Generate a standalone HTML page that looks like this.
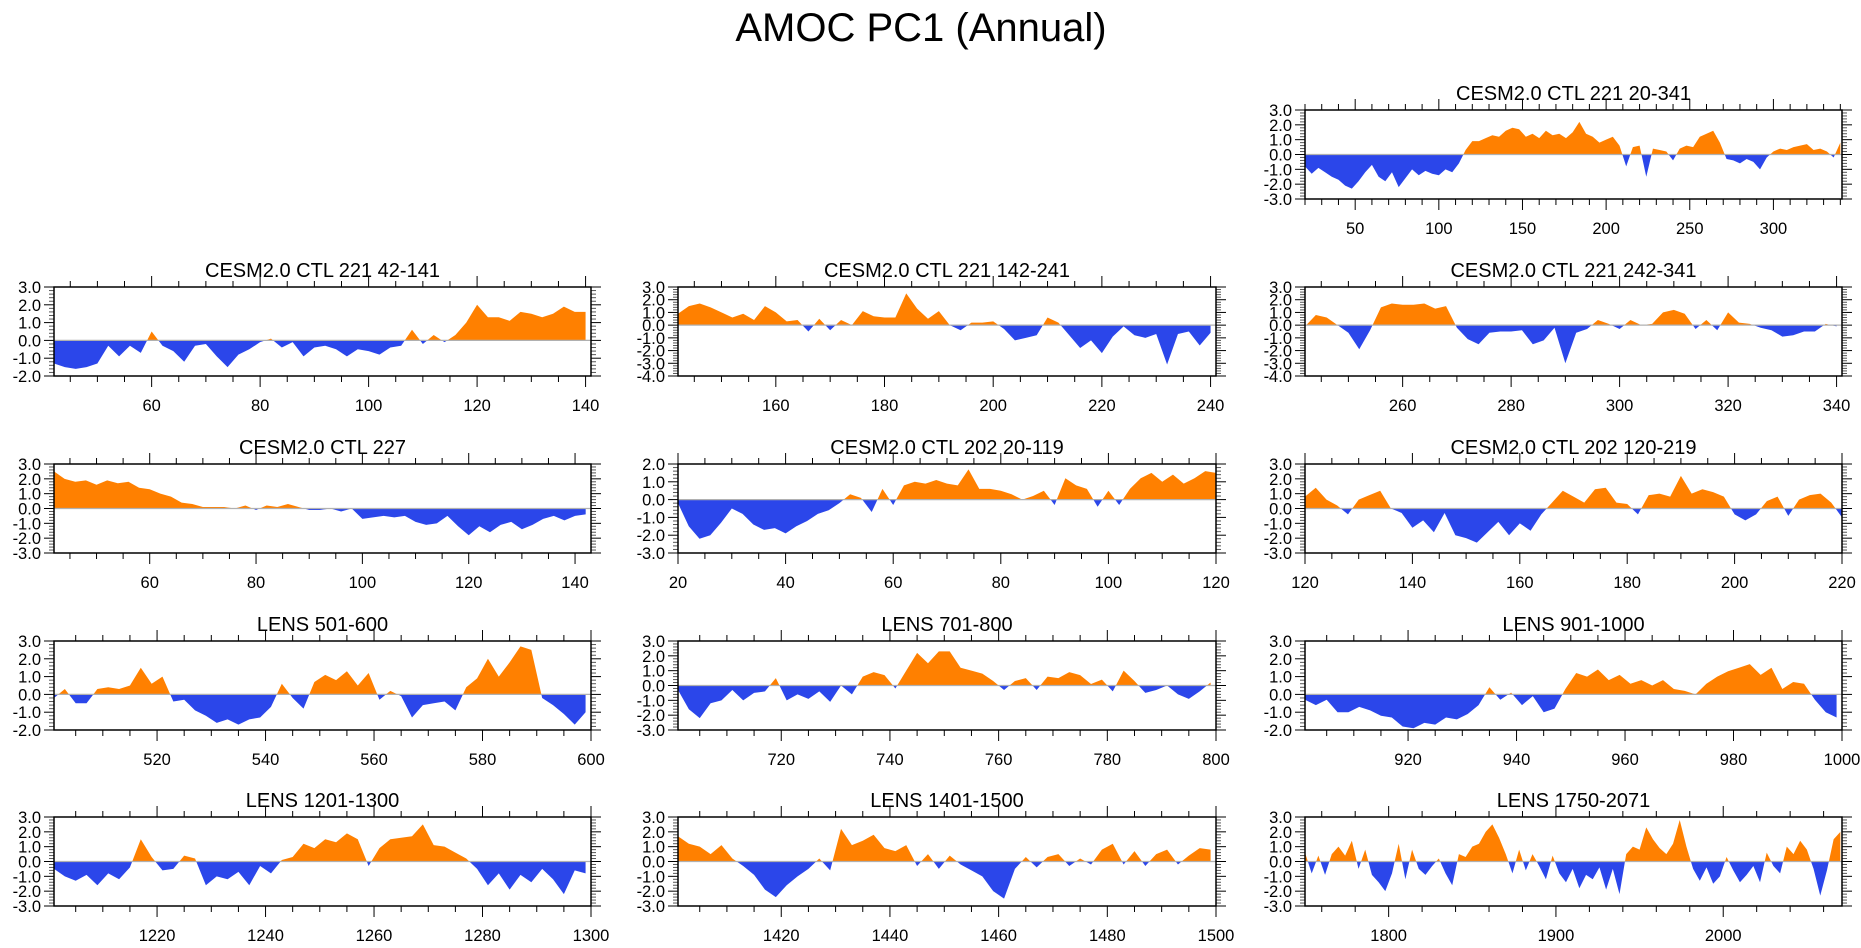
<!DOCTYPE html>
<html><head><meta charset="utf-8"><style>
html,body{margin:0;padding:0;background:#fff;}
svg{display:block;font-family:"Liberation Sans",sans-serif;}
</style></head><body>
<svg id="chart" width="1861" height="948" viewBox="0 0 1861 948" xmlns="http://www.w3.org/2000/svg">
<text x="921" y="41" font-size="40" text-anchor="middle" fill="#000">AMOC PC1 (Annual)</text>
</svg>
<script>
// ---- data arrays ----
const titles = ["CESM2.0 CTL 221 20-341","CESM2.0 CTL 221 42-141","CESM2.0 CTL 221 142-241","CESM2.0 CTL 221 242-341","CESM2.0 CTL 227","CESM2.0 CTL 202 20-119","CESM2.0 CTL 202 120-219","LENS 501-600","LENS 701-800","LENS 901-1000","LENS 1201-1300","LENS 1401-1500","LENS 1750-2071"];
const xStart = [20,42,142,242,42,20,120,501,701,901,1201,1401,1750];
const xEnd = [341,141,241,341,143,120,220,600,800,1000,1300,1500,2071];
const dataStep = [4,2,2,2,2,2,2,2,2,2,2,2,4];
const yMin = [-3,-2,-4,-4,-3,-3,-3,-2,-3,-2,-3,-3,-3];
const yMax = [3,3,3,3,3,2,3,3,3,3,3,3,3];
const majorStep = [50,20,20,20,20,20,20,20,20,20,20,20,100];
const minorStep = [10,5,5,5,5,5,5,5,5,5,5,5,20];

const v0 = [-0.8,-1.3,-0.9,-1.2,-1.5,-1.7,-2.1,-2.3,-1.8,-1.2,-0.7,-1.5,-1.8,-1.2,-2.2,-1.6,-1.0,-1.4,-1.1,-1.3,-1.4,-1.0,-1.2,-0.6,0.3,0.9,0.9,1.1,1.3,1.2,1.6,1.8,1.7,1.2,1.4,1.1,1.6,1.3,1.4,1.1,1.5,2.2,1.4,1.2,0.8,1.0,1.2,0.6,-0.8,0.5,0.6,-1.5,0.4,0.3,0.2,-0.4,0.4,0.6,0.5,1.2,1.4,1.6,0.8,-0.3,-0.4,-0.6,-0.3,-0.5,-1.0,-0.2,0.2,0.4,0.3,0.5,0.6,0.7,0.3,0.4,0.2,-0.2,0.8];
const v1 = [-1.3,-1.5,-1.6,-1.5,-1.3,-0.3,-0.9,-0.3,-0.7,0.5,-0.3,-0.6,-1.2,-0.3,-0.2,-0.9,-1.5,-0.8,-0.5,-0.1,0.1,-0.4,-0.1,-0.9,-0.4,-0.3,-0.5,-0.9,-0.5,-0.6,-0.8,-0.4,-0.3,0.6,-0.2,0.3,-0.1,0.3,1.0,2.0,1.3,1.3,1.1,1.6,1.5,1.3,1.5,1.9,1.6,1.6];
const v2 = [0.9,1.5,1.7,1.4,1.0,0.6,0.9,0.4,1.5,1.0,0.3,0.4,-0.5,0.5,-0.4,0.4,0.0,1.1,0.7,0.6,0.6,2.5,1.3,0.5,1.1,0.0,-0.4,0.2,0.2,0.3,-0.3,-1.2,-1.0,-0.8,0.6,0.2,-0.8,-1.8,-1.2,-2.2,-0.9,-0.1,-0.8,-1.0,-0.7,-3.1,-0.7,-0.5,-1.6,-0.6];
const v3 = [-0.1,0.8,0.6,0.0,-0.6,-1.9,-0.4,1.4,1.7,1.6,1.6,1.7,1.3,1.5,-0.2,-1.1,-1.5,-0.6,-0.5,-0.5,-0.4,-1.5,-1.2,-0.2,-3.0,-0.6,-0.3,0.4,0.1,-0.3,0.4,0.0,0.1,1.0,1.2,0.9,-0.3,0.4,-0.4,1.0,0.2,0.1,-0.2,-0.4,-0.9,-0.8,-0.5,-0.5,0.1,-0.1];
const v4 = [2.5,2.0,1.8,1.9,1.6,1.9,1.7,1.8,1.4,1.3,1.0,0.8,0.4,0.3,0.1,0.1,0.1,0.0,0.2,-0.1,0.2,0.1,0.3,0.1,-0.1,-0.1,0.0,-0.2,0.0,-0.7,-0.6,-0.5,-0.6,-0.5,-0.9,-1.1,-1.0,-0.5,-1.2,-1.8,-1.2,-1.6,-1.1,-0.9,-1.4,-1.1,-0.7,-0.5,-0.8,-0.5,-0.4];
const v5 = [-0.2,-1.5,-2.2,-2.0,-1.3,-0.5,-0.8,-1.4,-1.7,-1.6,-1.9,-1.5,-1.2,-0.8,-0.6,-0.2,0.3,0.1,-0.7,0.6,-0.3,0.8,1.0,0.9,1.1,0.9,0.8,1.7,0.6,0.6,0.5,0.3,0.0,0.2,0.5,-0.3,1.2,0.8,0.6,-0.4,0.5,-0.3,0.6,1.2,1.5,1.0,1.4,0.9,1.2,1.6,1.5];
const v6 = [0.8,1.4,0.6,0.2,-0.4,0.6,0.9,1.2,0.0,-0.3,-1.3,-0.8,-1.6,-0.3,-1.8,-2.0,-2.3,-1.6,-0.9,-1.8,-1.0,-1.5,-0.4,0.4,1.2,0.8,0.4,1.3,1.4,0.4,0.3,-0.4,0.9,1.0,0.8,2.2,1.0,1.3,1.1,0.8,-0.4,-0.8,-0.4,0.5,0.8,-0.5,0.6,0.9,1.0,0.4,-0.6];
const v7 = [-0.2,0.3,-0.5,-0.5,0.3,0.4,0.3,0.5,1.5,0.6,1.0,-0.4,-0.3,-0.9,-1.2,-1.6,-1.4,-1.7,-1.4,-1.3,-0.7,0.6,-0.2,-0.8,0.7,1.1,0.8,1.3,0.5,1.2,-0.3,0.2,-0.1,-1.3,-0.6,-0.5,-0.4,-0.9,0.4,0.9,2.0,1.0,1.8,2.7,2.5,-0.2,-0.6,-1.1,-1.7,-1.0];
const v8 = [-0.3,-1.6,-2.2,-1.2,-1.0,-0.3,-1.0,-0.5,-0.4,0.5,-1.0,-0.6,-0.9,-0.4,-1.1,0.0,-0.6,0.6,0.9,0.7,-0.2,1.0,2.2,1.5,2.3,2.3,1.2,1.0,0.8,0.3,-0.3,0.3,0.5,-0.3,0.6,0.5,0.9,0.7,0.1,0.4,-0.4,1.0,0.3,-0.5,-0.3,0.0,-0.6,-0.9,-0.4,0.2];
const v9 = [-0.3,-0.6,-0.3,-1.0,-1.0,-0.7,-0.9,-1.2,-1.3,-1.8,-1.9,-1.6,-1.7,-1.3,-1.4,-1.1,-0.6,0.4,-0.3,0.1,-0.6,-0.1,-1.0,-0.8,0.3,1.2,1.0,1.4,0.8,1.1,0.6,0.8,0.5,0.8,0.3,0.2,0.0,0.6,1.0,1.3,1.5,1.7,1.1,1.5,0.3,0.7,0.6,-0.3,-1.0,-1.3];
const v10 = [-0.5,-1.0,-1.3,-0.9,-1.6,-0.8,-1.2,-0.4,1.5,0.3,-0.6,-0.5,0.4,0.2,-1.6,-1.0,-1.2,-0.7,-1.6,-0.3,-0.8,0.1,0.3,1.2,0.9,1.5,1.3,1.9,1.5,-0.3,0.9,1.5,1.6,1.7,2.5,1.1,1.0,0.6,0.2,-0.5,-1.6,-0.8,-1.9,-0.9,-1.4,-0.5,-1.2,-2.2,-0.6,-0.8];
const v11 = [1.7,1.2,1.0,0.5,1.1,0.2,-0.3,-0.9,-1.9,-2.4,-1.6,-1.0,-0.5,0.2,-0.6,2.2,1.1,1.4,1.8,0.9,0.7,1.1,-0.3,0.5,-0.5,0.4,-0.2,-0.6,-1.0,-2.0,-2.5,-0.5,0.3,-0.4,0.3,0.5,-0.3,0.2,-0.2,0.8,1.2,-0.2,0.7,-0.3,0.5,0.8,-0.2,0.4,0.9,0.8];
const v12 = [0.6,-0.8,0.4,-0.9,0.5,1.0,0.4,1.4,-0.5,0.8,-0.9,-1.4,-2.0,-0.8,1.2,-1.2,0.8,-0.5,-0.9,-0.3,0.2,-0.8,-1.6,0.5,0.3,1.0,1.2,2.0,2.5,1.6,0.5,-0.8,0.8,-0.6,0.5,-0.3,-1.2,0.4,-0.8,-1.4,-0.5,-1.8,-0.9,-1.2,-0.4,-1.9,-0.5,-2.2,0.5,1.0,0.8,2.3,1.5,0.9,0.5,1.2,2.8,1.0,-0.5,-1.3,-0.4,-1.5,-1.0,0.3,-0.6,-1.4,-0.9,-0.3,-1.4,0.6,-0.3,-0.8,1.0,0.5,1.4,0.8,-0.5,-2.3,-0.6,1.5,2.0];
const seriesValues = [v0,v1,v2,v3,v4,v5,v6,v7,v8,v9,v10,v11,v12];

// ---- layout (not data) ----
const colLeft = [54,678,1305], colRight = [591,1216,1842];
const rowTop = [110,287,464,641,817];
const panelCol = [2,0,1,2,0,1,2,0,1,2,0,1,2];
const panelRow = [0,1,1,1,2,2,2,3,3,3,4,4,4];
const PH = 89;
const ORANGE = "#ff8000", BLUE = "#2b46ea";
const NS = "http://www.w3.org/2000/svg";
const svg = document.getElementById("chart");
function mk(tag, attrs, parent){const e=document.createElementNS(NS,tag);for(const k in attrs)e.setAttribute(k,attrs[k]);(parent||svg).appendChild(e);return e;}

for (let p=0;p<titles.length;p++){
  const L=colLeft[panelCol[p]], R=colRight[panelCol[p]], T=rowTop[panelRow[p]], B=T+PH;
  const x0=xStart[p], x1=xEnd[p], y0=yMin[p], y1=yMax[p];
  const sx = v => L + (v-x0)/(x1-x0)*(R-L);
  const sy = v => B - (v-y0)/(y1-y0)*(B-T);
  const g = mk("g",{});
  
  
  const t = mk("text",{x:(L+R)/2,y:T-10,"font-size":20,"text-anchor":"middle",fill:"#000"},g);
  t.textContent = titles[p];
  
  
  const zy = sy(0);
  const vals = seriesValues[p];
  let pts = [];
  for (let i=0;i<vals.length;i++){ pts.push(sx(x0 + i*dataStep[p]).toFixed(2)+","+sy(vals[i]).toFixed(2)); }
  const lastX = sx(x0 + (vals.length-1)*dataStep[p]);
  const poly = sx(x0).toFixed(2)+","+zy+" "+pts.join(" ")+" "+lastX.toFixed(2)+","+zy;
  const cu = mk("clipPath",{id:"cu"+p},g); mk("rect",{x:L,y:T,width:R-L,height:zy-T},cu);
  const cd = mk("clipPath",{id:"cd"+p},g); mk("rect",{x:L,y:zy,width:R-L,height:B-zy},cd);
  const pu = mk("polygon",{points:poly,fill:ORANGE,"clip-path":"url(#cu"+p+")"},g);
  
  
  const pd = mk("polygon",{points:poly,fill:BLUE,"clip-path":"url(#cd"+p+")"},g);
  
  
  const zl = mk("line",{x1:L,x2:R,y1:zy,y2:zy,stroke:"#b0b0b0","stroke-width":1.2},g);
  
  
  for (let v=y0; v<=y1+1e-6; v+=0.2){
    const vv=Math.round(v*10)/10, y=sy(vv), major=Math.abs(vv-Math.round(vv))<1e-6, len=major?10:5;
    mk("line",{x1:L-len,x2:L,y1:y,y2:y,stroke:major?"#000":"#555","stroke-width":1},g);
    mk("line",{x1:R,x2:R+len,y1:y,y2:y,stroke:major?"#000":"#555","stroke-width":1},g);
    if(major){
      const lab = mk("text",{x:L-13,y:y+6,"font-size":16.5,"text-anchor":"end",fill:"#000"},g);
      lab.textContent = vv.toFixed(1);
      
      
    }
  }
  const ms=minorStep[p], Ms=majorStep[p];
  for (let v=Math.ceil(x0/ms)*ms; v<=x1; v+=ms){
    const x=sx(v), major=(v%Ms===0), len=major?11:6;
    mk("line",{x1:x,x2:x,y1:B,y2:B+len,stroke:"#000","stroke-width":1},g);
    mk("line",{x1:x,x2:x,y1:T-len,y2:T,stroke:"#000","stroke-width":1},g);
    if(major){
      const lab = mk("text",{x:x,y:B+35,"font-size":16.5,"text-anchor":"middle",fill:"#000"},g);
      lab.textContent = String(v);
      
      
    }
  }
  const box = mk("rect",{x:L,y:T,width:R-L,height:B-T,fill:"none",stroke:"#000","stroke-width":1.5},g);
  
  
}
</script>
</body></html>
